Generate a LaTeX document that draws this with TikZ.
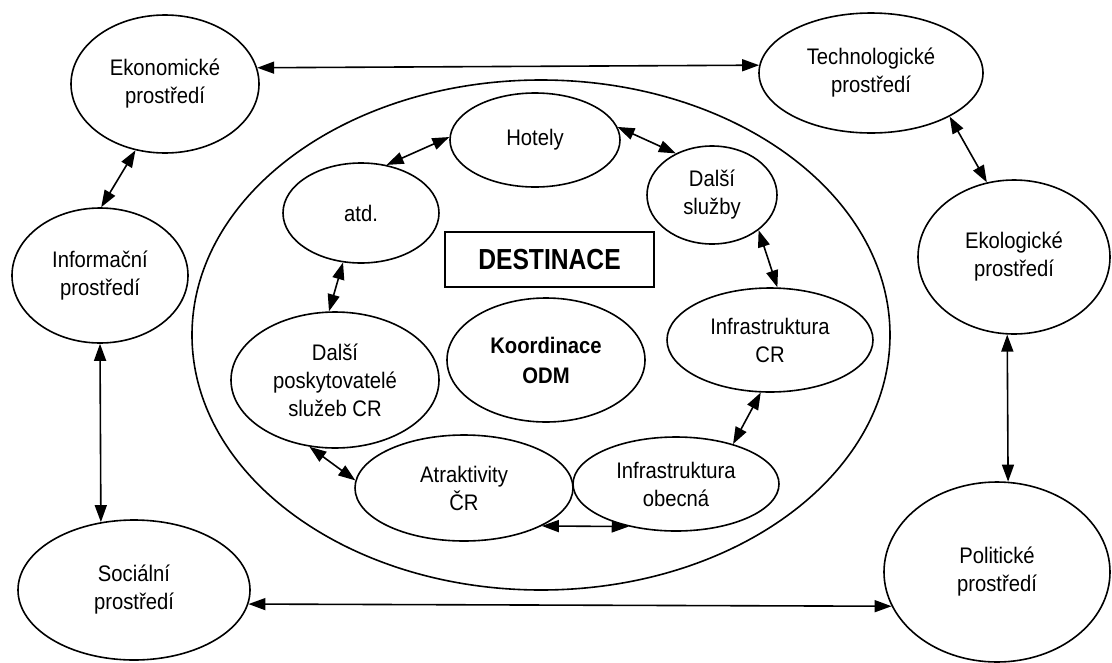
\documentclass[tikz,border=0pt]{standalone}
\usepackage{fontspec}
\setmainfont{Liberation Sans}
\newfontfamily\condfont{Liberation Sans}[FakeStretch=0.9]
\newfontfamily\titlefont{Liberation Sans}[FakeStretch=0.85]
\usetikzlibrary{shapes.geometric,arrows.meta}
\begin{document}
\begin{tikzpicture}[x=1pt,y=-1pt,
  el/.style={draw, ellipse, line width=1.6pt, inner sep=0pt, align=center,
    font=\condfont\fontsize{22.5}{28}\selectfont},
  conn/.style={{Triangle[length=17pt,width=12pt]}-{Triangle[length=17pt,width=12pt]}, line width=1.6pt},
  titlebox/.style={draw, rectangle, line width=1.6pt, inner sep=0pt,
    font=\titlefont\fontsize{29}{32}\selectfont\bfseries}]
\useasboundingbox (0,0) rectangle (1112,662);
% outer environment
\node[el, minimum width=188pt, minimum height=138pt] (eko) at (165,84) {Ekonomické\\prostředí};
\node[el, minimum width=176pt, minimum height=135pt] (inf) at (100,275.5) {Informační\\prostředí};
\node[el, minimum width=232pt, minimum height=140pt] (soc) at (134,590) {Sociální\\prostředí};
\node[el, minimum width=224pt, minimum height=120pt] (tech) at (871,73) {Technologické\\prostředí};
\node[el, minimum width=192pt, minimum height=154pt] (ekol) at (1014,257) {Ekologické\\prostředí};
\node[el, minimum width=226pt, minimum height=180pt] (pol) at (997,572) {Politické\\prostředí};
% destination
\node[el, minimum width=698pt, minimum height=510pt] (dest) at (541,335) {};
\node[el, minimum width=156pt, minimum height=100pt] (atd) at (361,213) {atd.};
\node[el, minimum width=170pt, minimum height=94pt] (hot) at (535,140) {Hotely};
\node[el, minimum width=130pt, minimum height=98pt] (dsl) at (712,195) {Další\\služby};
\node[el, minimum width=206pt, minimum height=104pt] (icr) at (770,340) {Infrastruktura\\CR};
\node[el, minimum width=206pt, minimum height=94pt] (iob) at (676,484) {Infrastruktura\\obecná};
\node[el, minimum width=218pt, minimum height=106pt] (atr) at (464,488) {Atraktivity\\ČR};
\node[el, minimum width=208pt, minimum height=136pt] (dp) at (335,380) {Další\\poskytovatelé\\služeb CR};
\node[el, minimum width=198pt, minimum height=124pt, font=\condfont\fontsize{22.5}{30}\selectfont\bfseries] (koord) at (546,360) {Koordinace\\ODM};
\node[titlebox, minimum width=209pt, minimum height=55pt] (title) at (549.5,259.5) {DESTINACE};
% outer connectors
\draw[conn] (eko.10.6) -- (tech.176.9);
\draw[conn] (eko.-114.4) -- (inf.89);
\draw[conn] (inf.-90) -- (soc.116.9);
\draw[conn] (tech.-29.7) -- (ekol.110.6);
\draw[conn] (ekol.-95.2) -- (pol.83.7);
\draw[conn] (soc.-7.6) -- (pol.-162.6);
% inner connectors
\draw[conn] (atd.62) -- (hot.178);
\draw[conn] (hot.9) -- (dsl.131.6);
\draw[conn] (dsl.-37.9) -- (icr.82.7);
\draw[conn] (icr.-100.3) -- (iob.35.8);
\draw[conn] (atr.-26.6) -- (iob.-138.7);
\draw[conn] (dp.-111.1) -- (atr.176.8);
\draw[conn] (atd.-110.8) -- (dp.95);
\end{tikzpicture}
\end{document}
